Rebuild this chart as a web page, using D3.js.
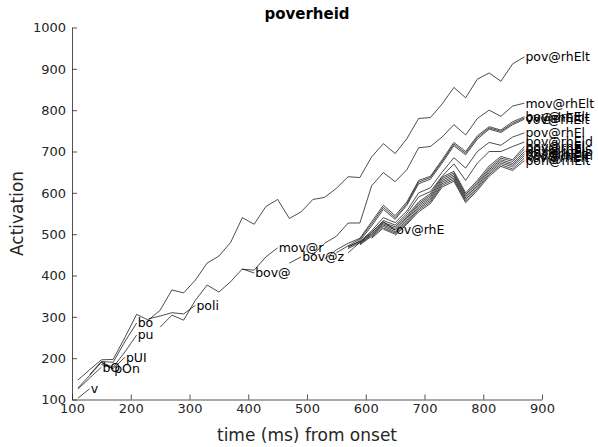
<!DOCTYPE html>
<html>
<head>
<meta charset="utf-8">
<script src="https://cdn.jsdelivr.net/npm/d3@7"></script>
<style>
  html, body { margin: 0; padding: 0; background: #fff; }
  svg { display: block; }
  text { font-family: "DejaVu Sans", sans-serif; }
</style>
</head>
<body>
<svg id="chart" width="598" height="447"></svg>
<script>
// ---- data ----
const timeStep = 20;
const xTicks = [100, 200, 300, 400, 500, 600, 700, 800, 900];
const yTicks = [100, 200, 300, 400, 500, 600, 700, 800, 900, 1000];

const seriesNames = [
  "v", "bO", "pOn", "pUI", "pu", "bo", "poli", "bov@", "mov@r", "bov@z", "ov@rhE",
  "pov@rhElt", "mov@rhElt", "bov@rhElt", "ov@rhElt", "vov@rhElt", "pov@rhEl",
  "pov@rhEld", "bov@rhEl", "pov@rhEls", "pov@rhElp", "tov@rhElt", "pov@rhEln",
  "kov@rhElt", "pon@rhElt"
];
const seriesStart = [
  110, 110, 110, 150, 150, 130, 230, 250, 390, 470, 570,
  110, 510, 530, 550, 570, 570,
  570, 590, 590, 590, 610, 610,
  630, 650
];
const seriesValues = [
  [103, 126],
  [125, 152, 178],
  [128, 158, 190, 174],
  [185, 175, 202],
  [190, 178, 215, 256],
  [160, 192, 190, 240, 285],
  [295, 302, 310, 307, 328],
  [275, 304, 292, 340, 377, 360, 385, 416, 406],
  [415, 413, 445, 467],
  [430, 445],
  [455, 480, 505, 530, 510],
  [147, 172, 196, 197, 250, 306, 292, 316, 365, 358, 389, 430, 447, 480, 540, 524, 567, 584, 538, 554,
   584, 589, 611, 639, 637, 687, 719, 695, 731, 780, 782, 815, 855, 830, 875, 890, 870, 912, 929],
  [450, 478, 495, 527, 527, 617, 649, 627, 656, 709, 712, 735, 765, 740, 780, 800, 785, 810, 817],
  [440, 462, 478, 490, 530, 570, 545, 578, 630, 640, 680, 722, 700, 738, 760, 752, 772, 784],
  [455, 472, 488, 525, 565, 540, 574, 626, 637, 676, 718, 696, 734, 757, 749, 768, 781],
  [468, 484, 520, 560, 536, 570, 622, 633, 672, 714, 692, 730, 754, 746, 765, 778],
  [470, 482, 508, 540, 528, 556, 600, 612, 650, 685, 660, 700, 722, 715, 735, 745],
  [465, 480, 503, 533, 522, 550, 590, 603, 640, 670, 630, 672, 700, 700, 712, 723],
  [478, 500, 528, 518, 545, 578, 598, 638, 652, 600, 630, 665, 688, 680, 712],
  [476, 498, 525, 514, 541, 574, 594, 634, 648, 596, 626, 660, 684, 676, 706],
  [474, 495, 522, 510, 538, 570, 590, 630, 644, 592, 622, 656, 680, 671, 700],
  [492, 519, 506, 534, 566, 586, 626, 640, 588, 618, 652, 676, 667, 695],
  [490, 515, 503, 530, 562, 582, 622, 636, 584, 614, 648, 672, 663, 690],
  [512, 500, 527, 558, 578, 618, 632, 580, 610, 644, 668, 658, 684],
  [497, 524, 554, 574, 614, 628, 576, 606, 640, 664, 654, 678]
];

const titleText = "poverheid";
const xLabel = "time (ms) from onset";
const yLabel = "Activation";

// ---- layout ----
const mLeft = 72, mRight = 542, mTop = 27.5, mBottom = 399.5;
const axisColor = "#262626";

const svg = d3.select("#chart");
const x = d3.scaleLinear().domain([100, 900]).range([mLeft, mRight]);
const y = d3.scaleLinear().domain([100, 1000]).range([mBottom, mTop]);

// axes
const xAxis = d3.axisBottom(x).tickValues(xTicks).tickFormat(d3.format("d"))
  .tickSizeInner(-5).tickSizeOuter(0).tickPadding(4);
const yAxis = d3.axisLeft(y).tickValues(yTicks).tickFormat(d3.format("d"))
  .tickSizeInner(-5).tickSizeOuter(0).tickPadding(6);

const gx = svg.append("g").attr("transform", `translate(0,${mBottom})`).call(xAxis);
const gy = svg.append("g").attr("transform", `translate(${mLeft},0)`).call(yAxis);
[gx, gy].forEach(g => {
  g.select(".domain").attr("stroke", axisColor).attr("stroke-width", 0.8);
  g.selectAll(".tick line").attr("stroke", axisColor).attr("stroke-width", 0.8);
  g.selectAll(".tick text").attr("fill", axisColor)
    .style("font-family", "DejaVu Sans, sans-serif").style("font-size", "13px");
});

// lines
const line = d3.line().x(d => x(d[0])).y(d => y(d[1]));
const series = seriesNames.map((name, i) => ({
  name,
  pts: seriesValues[i].map((v, j) => [seriesStart[i] + j * timeStep, v])
}));

const gl = svg.append("g");
gl.selectAll("path").data(series).join("path")
  .attr("d", d => line(d.pts))
  .attr("fill", "none")
  .attr("stroke", "#000")
  .attr("stroke-width", 0.7);

gl.selectAll("text").data(series).join("text")
  .attr("x", d => x(d.pts[d.pts.length - 1][0]) + 1)
  .attr("y", d => y(d.pts[d.pts.length - 1][1]))
  .attr("dy", "0.35em")
  .attr("fill", "#000")
  .style("font-size", "12.5px")
  .text(d => d.name);

// title & axis labels
svg.append("text").attr("x", (mLeft + mRight) / 2).attr("y", 19)
  .attr("text-anchor", "middle").style("font-weight", "bold").style("font-size", "15px")
  .attr("fill", "#000").text(titleText);
svg.append("text").attr("x", (mLeft + mRight) / 2).attr("y", 441)
  .attr("text-anchor", "middle").style("font-size", "17px")
  .attr("fill", axisColor).text(xLabel);
svg.append("text").attr("transform", `translate(23,${(mTop + mBottom) / 2}) rotate(-90)`)
  .attr("text-anchor", "middle").style("font-size", "17px")
  .attr("fill", axisColor).text(yLabel);
</script>
</body>
</html>
